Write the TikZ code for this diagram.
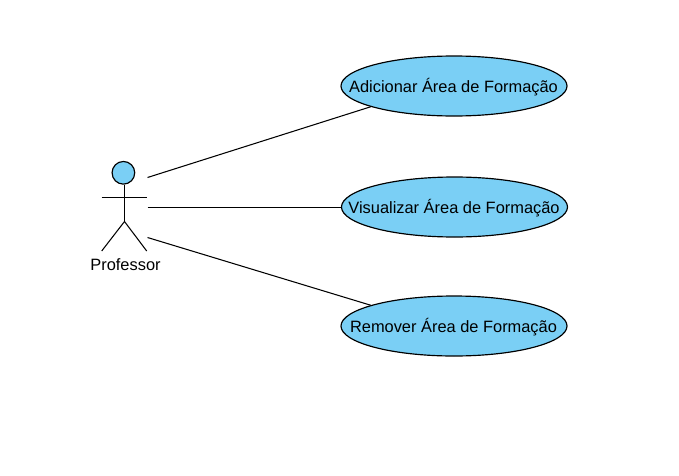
\documentclass[tikz,border=0pt]{standalone}
\usepackage{fontspec}
\setmainfont{Liberation Sans}
\usetikzlibrary{shapes.geometric}
\definecolor{ucblue}{RGB}{122,207,245}
\tikzset{
  usecase/.style={ellipse, draw=black, fill=ucblue, line width=1pt, inner sep=0pt,
    minimum width=6.78cm, minimum height=1.8cm},
  every label/.style={font=\fontsize{14pt}{16pt}\selectfont, inner sep=0pt, yshift=-0.03cm, xshift=-0.015cm},
  assoc/.style={draw=black, line width=0.9pt},
  limb/.style={draw=black, line width=0.9pt}
}
\begin{document}
\begin{tikzpicture}[x=0.03cm, y=0.03cm]
  \useasboundingbox (0,0) rectangle (679,-475);
  % use cases
  \node[usecase, label={center:Adicionar Área de Formação}] (adicionar) at (454,-86) {};
  \node[usecase, label={center:Visualizar Área de Formação}] (visualizar) at (454.5,-207) {};
  \node[usecase, label={center:Remover Área de Formação}] (remover) at (454,-326) {};
  % actor
  \node[circle, draw=black, fill=ucblue, line width=1pt, minimum size=0.68cm, inner sep=0pt]
    (head) at (123.4,-172.8) {};
  \coordinate (hip) at (124.5,-221.5);
  \coordinate (armL) at (101.7,-197.5);
  \coordinate (armR) at (146.7,-197.5);
  \coordinate (footL) at (101.7,-251);
  \coordinate (footR) at (146.7,-251);
  \draw[limb] (head.south -| hip) -- (hip);
  \draw[limb] (armL) -- (armR);
  \draw[limb] (footL) -- (hip) -- (footR);
  \node[font=\fontsize{14pt}{16pt}\selectfont, inner sep=0pt] (professor) at (125.5,-264.5) {Professor};
  % associations
  \coordinate (c1) at (147.5,-177.5);
  \coordinate (c2) at (147.5,-207.5);
  \coordinate (c3) at (147.5,-237.5);
  \draw[assoc] (c1) -- (adicionar.194);
  \draw[assoc] (c2) -- (visualizar.west |- c2);
  \draw[assoc] (c3) -- (remover.166);
\end{tikzpicture}
\end{document}
